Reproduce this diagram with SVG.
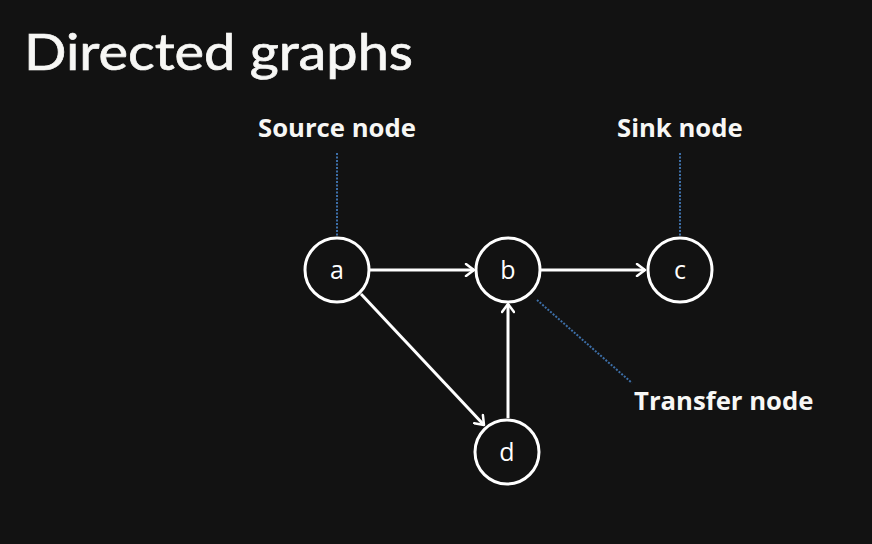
<svg xmlns="http://www.w3.org/2000/svg" width="872" height="544" viewBox="0 0 872 544">
  <defs>
    <style>
      .title { font-family: "Lato", "Open Sans", sans-serif; font-size: 51px; fill: #f7f7f5; stroke: #f7f7f5; stroke-width: 0.7px; }
      .label { font-family: "Open Sans", "Noto Sans", sans-serif; font-weight: 700; font-size: 25.7px; fill: #f7f7f5; }
      .node circle { fill: none; stroke: #ffffff; stroke-width: 3; }
      .node text { font-family: "Open Sans", "Noto Sans", sans-serif; font-size: 25px; fill: #ffffff; text-anchor: middle; }
      .edge { stroke: #ffffff; stroke-width: 3; fill: none; marker-end: url(#arrow); }
      .pointer { stroke: #3d6fa8; stroke-width: 2; stroke-dasharray: 2 1.5; fill: none; }
    </style>
    <marker id="arrow" viewBox="0 0 14 14" refX="12" refY="7" markerWidth="14" markerHeight="14" markerUnits="userSpaceOnUse" orient="auto">
      <path d="M4,1 L12,7 L4,13" fill="none" stroke="#ffffff" stroke-width="2.5" stroke-linecap="round" stroke-linejoin="round"/>
    </marker>
  </defs>
  <rect width="872" height="544" fill="#121212"/>

  <text class="title" x="24" y="70" textLength="389" lengthAdjust="spacingAndGlyphs">Directed graphs</text>

  <!-- annotation leaders -->
  <g id="annotations">
    <line class="pointer" x1="337" y1="153" x2="337" y2="236"/>
    <line class="pointer" x1="680" y1="153" x2="680" y2="237"/>
    <line class="pointer" x1="537" y1="300" x2="632" y2="383"/>
    <text class="label" x="258" y="137">Source node</text>
    <text class="label" x="617" y="137">Sink node</text>
    <text class="label" x="634" y="410">Transfer node</text>
  </g>

  <!-- directed edges -->
  <g id="edges">
    <line class="edge" x1="370" y1="270" x2="474" y2="270"/>
    <line class="edge" x1="541" y1="270" x2="645" y2="270"/>
    <line class="edge" x1="361" y1="294" x2="484" y2="425"/>
    <line class="edge" x1="508" y1="418" x2="508" y2="304"/>
  </g>

  <g id="node-a" class="node">
    <circle cx="337" cy="270" r="32"/>
    <text x="337" y="279">a</text>
  </g>
  <g id="node-b" class="node">
    <circle cx="508" cy="270" r="32"/>
    <text x="508" y="279">b</text>
  </g>
  <g id="node-c" class="node">
    <circle cx="680" cy="270" r="32"/>
    <text x="680" y="279">c</text>
  </g>
  <g id="node-d" class="node">
    <circle cx="507" cy="452" r="32"/>
    <text x="507" y="461">d</text>
  </g>
</svg>
